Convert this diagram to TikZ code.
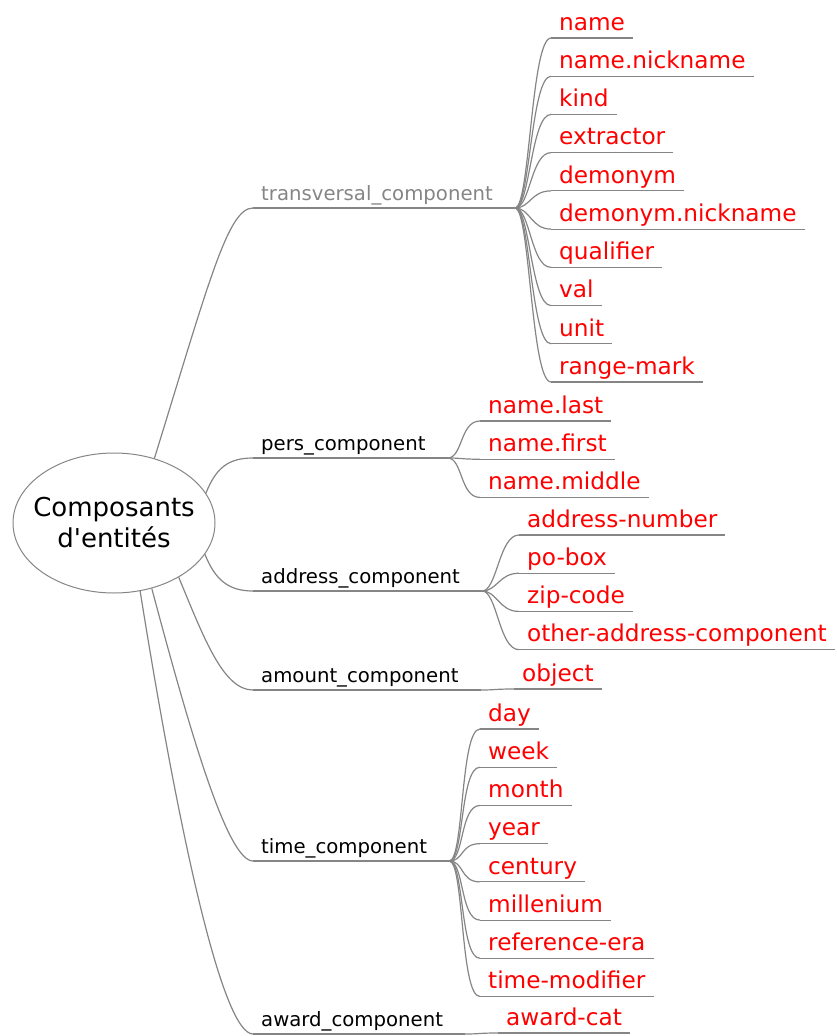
\documentclass[tikz,border=0pt]{standalone}
\usepackage{fontspec}
\setmainfont{DejaVu Sans}
\usetikzlibrary{shapes.geometric}
\definecolor{linegray}{HTML}{858585}

\begin{document}
\begin{tikzpicture}[x=1pt, y=-1pt,
		line/.style={draw=linegray, line width=1.2pt},
		root/.style={ellipse, draw=linegray, line width=1pt, minimum width=202pt, minimum height=140pt,
			inner xsep=-11pt, inner ysep=0pt, align=center, font=\fontsize{26}{31}\selectfont},
		comp/.style={anchor=south west, inner xsep=8pt, inner ysep=3pt, text height=14.5pt, text depth=4pt,
			font=\fontsize{19.7}{23}\selectfont},
		leaf/.style={anchor=south west, inner xsep=8pt, inner ysep=3pt, text height=17pt, text depth=4.5pt,
			text=red, font=\fontsize{23.2}{28}\selectfont}]
	\useasboundingbox (0,0) rectangle (836,1036);

	\node[root] (root) at (114,523) {Composants\\d\XeTeXglyph\XeTeXcharglyph"27 entités};

	% composants
	\node[comp, text=linegray] (tr) at (253,208) {transversal\_component};
	\node[comp] (pers) at (253,458) {pers\_component};
	\node[comp] (addr) at (253,591) {address\_component};
	\node[comp] (amount) at (253,690) {amount\_component};
	\node[comp] (time) at (253,861) {time\_component};
	\node[comp] (award) at (253,1034) {award\_component};

	\foreach \c in {tr, pers, addr, amount, time, award} {
		\coordinate (\c-f) at ([xshift=14pt]\c.south east);
		\draw[line] (\c.south west) -- (\c-f);
	}

	\draw[line] (root.58) .. controls +(55,-178) and +(-25,0) .. (tr.south west);
	\draw[line] (root.18) .. controls +(10,-25) and +(-25,0) .. (pers.south west);
	\draw[line] (root.-19) .. controls +(10,25) and +(-25,0) .. (addr.south west);
	\draw[line] (root.-40) .. controls +(25,60) and +(-30,0) .. (amount.south west);
	\draw[line] (root.-60) .. controls +(40,150) and +(-25,0) .. (time.south west);
	\draw[line] (root.-69) .. controls +(40,250) and +(-30,0) .. (award.south west);

	% feuilles
	\foreach \t [count=\i] in {name, name.nickname, kind, extractor, demonym, demonym.nickname, qualifier, val, unit, range-mark} {
		\node[leaf] (tr-\i) at (551, {38+38.22*(\i-1)}) {\t};
		\draw[line] (tr-\i.south west) -- (tr-\i.south east);
		\draw[line] (tr-f) .. controls +(15,0) and +(-20,0) .. (tr-\i.south west);
	}
	\foreach \t [count=\i] in {name.last, name.first, name.middle} {
		\node[leaf] (pers-\i) at (480, {421+38.22*(\i-1)}) {\t};
		\draw[line] (pers-\i.south west) -- (pers-\i.south east);
		\draw[line] (pers-f) .. controls +(15,0) and +(-20,0) .. (pers-\i.south west);
	}
	\foreach \t [count=\i] in {address-number, po-box, zip-code, other-address-component} {
		\node[leaf] (addr-\i) at (519, {535+38.22*(\i-1)}) {\t};
		\draw[line] (addr-\i.south west) -- (addr-\i.south east);
		\draw[line] (addr-f) .. controls +(15,0) and +(-20,0) .. (addr-\i.south west);
	}
	\node[leaf] (amount-1) at (514,689) {object};
	\draw[line] (amount-1.south west) -- (amount-1.south east);
	\draw[line] (amount-f) .. controls +(15,0) and +(-20,0) .. (amount-1.south west);

	\foreach \t [count=\i] in {day, week, month, year, century, millenium, reference-era, time-modifier} {
		\node[leaf] (time-\i) at (480, {729+38.22*(\i-1)}) {\t};
		\draw[line] (time-\i.south west) -- (time-\i.south east);
		\draw[line] (time-f) .. controls +(15,0) and +(-20,0) .. (time-\i.south west);
	}
	\node[leaf] (award-1) at (498,1033) {award-cat};
	\draw[line] (award-1.south west) -- (award-1.south east);
	\draw[line] (award-f) .. controls +(15,0) and +(-20,0) .. (award-1.south west);
\end{tikzpicture}
\end{document}
